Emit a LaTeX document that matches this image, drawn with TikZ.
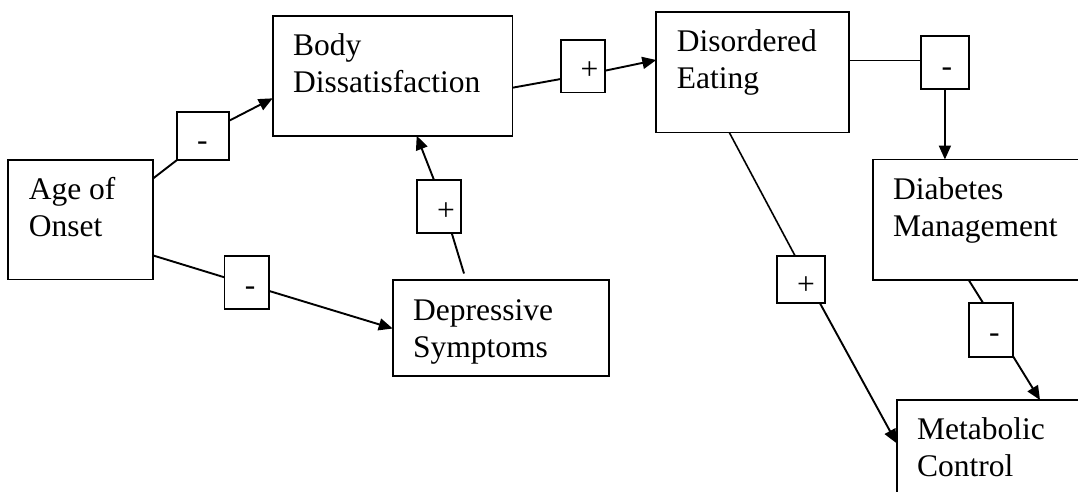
\documentclass[tikz,border=0pt]{standalone}
\usepackage{fontspec}
\setmainfont{Liberation Serif}
\usetikzlibrary{arrows.meta}
\begin{document}
\begin{tikzpicture}[x=1pt,y=-1pt,
  box/.style={draw, line width=1.9pt, rectangle, inner sep=0pt, outer sep=0pt, anchor=north west},
  sgn/.style={draw, line width=1.7pt, rectangle, inner sep=0pt, outer sep=0pt, anchor=north west},
  txt/.style={inner sep=0pt, outer sep=0pt, anchor=base west, font=\fontsize{31.5}{37}\selectfont},
  conn/.style={line width=1.9pt},
  thin/.style={line width=1.3pt},
  arr/.style={line width=1.9pt, -{Triangle[length=14pt,width=12pt]}}]
\useasboundingbox (0,0) rectangle (1078,491);
\clip (0,0) rectangle (1078,491);
% main boxes
\node[box, minimum width=145pt, minimum height=119.5pt] (age) at (8.3,160) {};
\node[box, minimum width=239.8pt, minimum height=120pt] (body) at (272.7,15.7) {};
\node[box, minimum width=192.5pt, minimum height=120.2pt] (dis) at (656.3,12.3) {};
\node[box, minimum width=240pt, minimum height=120.5pt] (diab) at (872.7,159.5) {};
\node[box, minimum width=216.6pt, minimum height=96pt] (dep) at (392.7,280) {};
\node[box, minimum width=220pt, minimum height=130pt] (met) at (896.7,400) {};
% texts
\node[txt] (aget) at ([xshift=20.5pt,yshift=-39.5pt]age.north west) {\begin{tabular}[t]{@{}l@{}}Age of\\Onset\end{tabular}};
\node[txt] (bodyt) at ([xshift=20.5pt,yshift=-39.5pt]body.north west) {\begin{tabular}[t]{@{}l@{}}Body\\Dissatisfaction\end{tabular}};
\node[txt] (dist) at ([xshift=20.5pt,yshift=-39.5pt]dis.north west) {\begin{tabular}[t]{@{}l@{}}Disordered\\Eating\end{tabular}};
\node[txt] (diabt) at ([xshift=20.5pt,yshift=-40pt]diab.north west) {\begin{tabular}[t]{@{}l@{}}Diabetes\\Management\end{tabular}};
\node[txt] (dept) at ([xshift=20.5pt,yshift=-40.5pt]dep.north west) {\begin{tabular}[t]{@{}l@{}}Depressive\\Symptoms\end{tabular}};
\node[txt] (mett) at ([xshift=20.5pt,yshift=-39.5pt]met.north west) {\begin{tabular}[t]{@{}l@{}}Metabolic\\Control\end{tabular}};
% sign boxes
\node[sgn, minimum width=52.2pt, minimum height=47.7pt] (l1) at (177,112.3) {};
\node[sgn, minimum width=44.9pt, minimum height=53.2pt] (l2) at (224.4,255.8) {};
\node[sgn, minimum width=44.5pt, minimum height=53pt] (l3) at (416.7,180) {};
\node[sgn, minimum width=44.3pt, minimum height=52.5pt] (l4) at (560.7,40) {};
\node[sgn, minimum width=47.8pt, minimum height=53.3pt] (l5) at (921,36) {};
\node[sgn, minimum width=48.5pt, minimum height=47.6pt] (l6) at (776.7,255.7) {};
\node[sgn, minimum width=44.6pt, minimum height=53.4pt] (l7) at (968.7,303.3) {};
\node[txt] (l1t) at ([xshift=20pt,yshift=-38.5pt]l1.north west) {-};
\node[txt] (l2t) at ([xshift=20.5pt,yshift=-39.2pt]l2.north west) {-};
\node[txt] (l3t) at ([xshift=20.5pt,yshift=-40pt]l3.north west) {+};
\node[txt] (l4t) at ([xshift=20pt,yshift=-39.8pt]l4.north west) {+};
\node[txt] (l5t) at ([xshift=20.5pt,yshift=-40pt]l5.north west) {-};
\node[txt] (l6t) at ([xshift=20.5pt,yshift=-39pt]l6.north west) {+};
\node[txt] (l7t) at ([xshift=20.5pt,yshift=-39pt]l7.north west) {-};
% connectors
\draw[conn] ([yshift=-18.3pt]age.north east) -- (l1.south west);
\draw[arr] ([yshift=-8.4pt]l1.north east) -- ([yshift=-82.6pt]body.north west);
\draw[conn] ([yshift=24pt]age.south east) -- ([yshift=-21.5pt]l2.north west);
\draw[arr] ([yshift=-35.2pt]l2.north east) -- ([yshift=-48.5pt]dep.north west);
\draw[conn] ([xshift=71.3pt,yshift=6.5pt]dep.north west) -- ([xshift=35pt]l3.south west);
\draw[arr] ([xshift=17.3pt]l3.north west) -- ([xshift=144pt]body.south west);
\draw[conn] ([yshift=-72pt]body.north east) -- ([yshift=-39pt]l4.north west);
\draw[arr] ([yshift=-30.7pt]l4.north east) -- ([yshift=-47.7pt]dis.north west);
\draw[thin] ([yshift=-48.4pt]dis.north east) -- ([yshift=-24.7pt]l5.north west);
\draw[arr] (l5.south) -- (l5.south |- diab.north);
\draw[line width=1.6pt] ([xshift=73pt]dis.south west) -- ([xshift=18.3pt]l6.north west);
\draw[arr] ([xshift=-5.2pt]l6.south east) -- ([yshift=-43.3pt]met.north west);
\draw[conn] ([xshift=96pt]diab.south west) -- ([xshift=14.6pt]l7.north west);
\draw[arr] (l7.south east) -- ([xshift=143.3pt]met.north west);
\end{tikzpicture}
\end{document}
